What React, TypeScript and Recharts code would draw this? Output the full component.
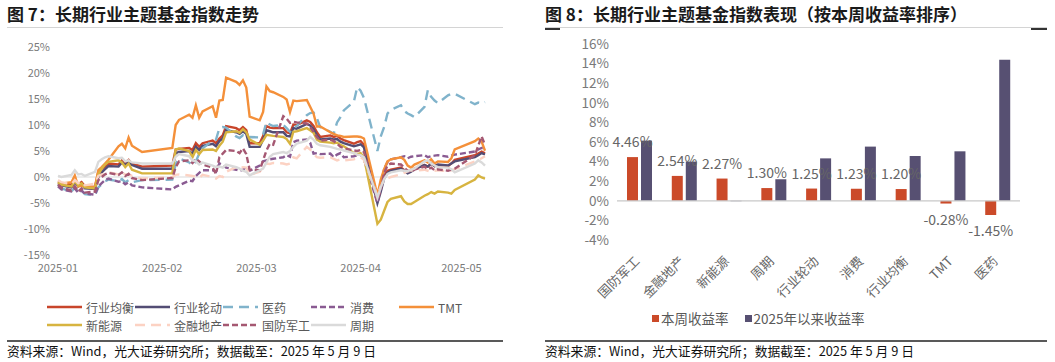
import React from 'react';
import { LineChart, Line, BarChart, Bar, XAxis, YAxis, ReferenceLine, LabelList } from 'recharts';

const FONT = "'Noto Sans CJK SC', 'Noto Sans', sans-serif";

// ---- 图7 data: cumulative return since start of year (%) on trading days ----
const tradeDates = [
  '01-02', '01-03', '01-06', '01-07', '01-08', '01-09', '01-10', '01-13', '01-14', '01-15', '01-16', '01-17',
  '01-20', '01-21', '01-22', '01-23', '01-24', '01-27',
  '02-05', '02-06', '02-07', '02-10', '02-11', '02-12', '02-13', '02-14', '02-17', '02-18', '02-19', '02-20',
  '02-21', '02-24', '02-25', '02-26', '02-27', '02-28',
  '03-03', '03-04', '03-05', '03-06', '03-07', '03-10', '03-11', '03-12', '03-13', '03-14', '03-17', '03-18',
  '03-19', '03-20', '03-21', '03-24', '03-25', '03-26', '03-27', '03-28', '03-31',
  '04-01', '04-02', '04-03', '04-07', '04-08', '04-09', '04-10', '04-11', '04-14', '04-15', '04-16', '04-17',
  '04-18', '04-21', '04-22', '04-23', '04-24', '04-25', '04-28', '04-29', '04-30',
  '05-06', '05-07', '05-08', '05-09',
];

const balanced = [
  -0.8, -1.2, -1.5, -0.6, -1.4, -1.0, -1.8, -1.9, 1.0, 1.6, 2.0, 2.6, 2.4, 3.2, 2.7, 3.3, 2.6, 2.0,
  2.2, 5.3, 5.4, 5.6, 5.2, 6.5, 5.8, 6.5, 7.0, 6.5, 7.4, 8.0, 9.8, 9.4, 9.0, 9.6, 9.0, 6.5,
  6.5, 7.9, 9.8, 9.5, 9.4, 9.4, 8.6, 8.4, 10.1, 10.0, 10.9, 10.6, 9.8, 8.6, 7.7, 8.0, 7.7, 7.9, 7.4, 7.1, 6.4,
  6.7, 6.9, 6.2, -4.3, -2.2, 0.2, 1.2, 1.4, 1.8, 1.3, 0.9, 1.2, 1.6, 2.3, 2.0, 2.6, 2.1, 2.3, 2.1, 2.6, 3.3,
  4.2, 4.5, 4.9, 4.57,
];
const rotation = [
  -1.2, -1.6, -2.0, -1.0, -1.8, -1.4, -2.2, -2.3, 0.0, 0.9, 1.5, 2.1, 2.0, 2.8, 2.3, 2.9, 2.3, 1.6,
  1.6, 4.6, 4.8, 5.0, 4.5, 5.8, 5.2, 6.0, 6.4, 5.9, 6.9, 7.4, 9.0, 8.6, 8.3, 8.8, 8.3, 5.8,
  5.8, 7.2, 9.0, 8.8, 8.6, 8.6, 7.9, 7.8, 9.4, 9.3, 10.2, 9.9, 9.2, 8.0, 7.2, 7.4, 7.2, 7.3, 6.8, 6.5, 5.9,
  6.1, 6.3, 5.7, -5.0, -2.8, -0.3, 0.8, 1.2, 1.6, 1.2, 0.7, 1.0, 1.5, 2.3, 2.0, 2.6, 2.1, 2.4, 2.2, 2.6, 3.0,
  3.8, 4.2, 4.6, 4.33,
];
const pharma = [
  -1.5, -2.2, -2.8, -2.0, -3.0, -2.6, -3.3, -3.5, -2.0, -1.4, -0.8, -0.5, -0.8, -0.4, -1.0, -0.6, -1.0, -0.6,
  -0.5, 2.5, 3.6, 2.8, 2.2, 3.0, 4.5, 5.5, 7.0, 7.2, 9.4, 9.6, 9.5, 7.8, 7.5, 8.0, 7.4, 7.7,
  7.6, 8.2, 10.6, 10.1, 9.8, 10.0, 9.4, 8.7, 9.6, 9.8, 11.9, 12.3, 12.4, 11.3, 9.6, 8.7, 8.3, 10.5, 11.5, 12.8, 14.5,
  17.3, 16.6, 15.2, 5.0, 7.8, 9.6, 12.2, 12.9, 13.8, 12.7, 12.2, 11.9, 11.5, 13.5, 16.7, 15.4, 14.7, 14.2, 15.7, 16.0, 16.0,
  14.0, 14.3, 14.1, 14.4,
];
const consumer = [
  -1.8, -2.4, -2.8, -2.2, -3.0, -2.6, -3.2, -3.4, -1.8, -1.2, -0.6, -0.3, -0.9, -0.8, -1.4, -1.0, -1.6, -2.0,
  -2.4, -1.9, -1.6, -0.7, -0.8, 0.2, 0.8, 1.3, 1.3, 1.0, 2.6, 2.3, 1.8, 1.4, 1.2, 1.4, 1.9, 1.2,
  2.2, 3.0, 3.2, 3.4, 3.5, 3.8, 4.2, 3.9, 6.7, 7.0, 7.2, 6.6, 4.5, 4.6, 4.4, 4.5, 3.8, 4.3, 4.6, 3.8, 4.0,
  4.2, 4.3, 3.4, -5.0, -2.0, 1.5, 2.9, 3.4, 3.8, 4.0, 3.6, 3.9, 4.0, 4.2, 3.8, 4.0, 4.1, 4.2, 3.9, 4.1, 4.3,
  4.9, 5.3, 5.6, 5.53,
];
const tmt = [
  -1.2, -1.3, -1.0, 0.3, -1.8, -1.7, -1.9, -1.9, 1.3, 1.9, 2.6, 3.3, 5.9, 6.4, 5.5, 7.6, 6.0, 4.8,
  5.6, 10.0, 11.0, 12.0, 11.4, 13.8, 11.4, 12.6, 13.6, 11.4, 14.7, 14.8, 19.1, 18.3, 17.7, 18.6, 17.2, 11.6,
  10.9, 12.5, 17.4, 16.5, 16.3, 15.4, 14.9, 12.5, 14.7, 14.6, 14.8, 13.5, 12.2, 9.7, 9.7, 8.6, 8.3, 8.0, 7.9, 7.7, 7.8,
  7.8, 7.7, 7.4, -3.5, -0.5, 1.5, 3.0, 3.4, 3.8, 3.3, 2.2, 1.8, 2.4, 3.2, 2.8, 3.4, 2.6, 3.0, 2.9, 3.6, 5.3,
  6.9, 7.4, 6.8, 5.05,
];
const newEnergy = [
  -1.0, -1.5, -1.8, -0.8, -1.6, -1.2, -2.0, -2.2, 0.5, 1.6, 2.4, 2.9, 3.2, 2.8, 1.9, 2.6, 1.4, 0.7,
  0.7, 5.3, 5.5, 5.0, 3.8, 5.2, 4.4, 5.2, 5.3, 5.0, 6.0, 6.8, 8.6, 8.8, 8.5, 9.2, 8.6, 7.2,
  6.2, 7.0, 8.1, 8.0, 7.9, 7.7, 7.3, 6.4, 8.7, 8.8, 9.4, 9.0, 8.5, 7.2, 6.8, 6.6, 6.5, 6.6, 6.2, 5.9, 4.6,
  4.4, 4.6, 3.8, -9.0, -8.2, -6.5, -4.8, -4.2, -3.7, -4.7, -5.2, -5.2, -4.8, -3.6, -3.3, -2.9, -3.2, -2.8, -3.0, -3.2, -2.5,
  -0.5, 0.3, -0.1, -0.3,
];
const finance = [
  -0.6, -1.0, -1.4, -0.6, -1.2, -0.8, -1.6, -1.3, 0.2, 0.5, 0.6, 0.9, 0.5, 1.0, 0.4, 0.6, 0.2, -0.3,
  0.0, 0.4, 0.5, 0.3, 0.2, 0.1, -0.2, 0.4, 0.0, -0.3, 0.2, 0.0, 1.0, 1.9, 1.6, 1.9, 1.8, 0.4,
  1.0, 1.9, 2.6, 2.5, 2.7, 2.6, 2.4, 2.6, 3.8, 3.6, 5.8, 5.3, 4.5, 3.8, 3.7, 3.8, 3.5, 3.2, 3.4, 3.2, 3.4,
  3.6, 3.8, 3.3, -3.6, -1.8, -0.6, -0.3, 0.0, 0.5, 0.8, 1.1, 1.3, 1.2, 1.4, 1.2, 1.0, 1.2, 1.3, 1.1, 1.3, 1.5,
  3.0, 3.3, 3.6, 4.0,
];
const defense = [
  -1.5, -2.0, -2.6, -1.8, -2.8, -2.2, -3.0, -2.8, -0.6, 0.0, 0.5, 0.8, 0.4, 0.9, 0.2, 0.6, -0.2, -0.6,
  -0.2, 1.9, 3.0, 3.2, 2.7, 3.5, 3.0, 2.4, 1.8, 0.6, 3.8, 4.5, 5.2, 5.0, 4.6, 5.5, 4.4, 1.4,
  1.3, 3.2, 5.1, 6.4, 6.2, 11.7, 11.2, 10.4, 10.6, 10.5, 10.3, 9.6, 8.7, 7.7, 7.0, 7.2, 6.9, 6.4, 5.8, 5.5, 5.1,
  5.0, 5.2, 4.8, -4.5, -2.5, 0.8, 2.2, 2.6, 2.4, 1.8, 1.2, 1.0, 1.4, 2.0, 1.5, 1.8, 1.3, 1.5, 1.2, 1.4, 1.6,
  4.2, 6.0, 7.8, 6.14,
];
const cyclical = [
  0.2, 0.0, 0.4, 1.3, 0.5, 0.6, 0.2, 1.0, 2.9, 3.4, 3.8, 4.0, 3.6, 3.7, 3.0, 3.2, 2.8, 2.6,
  2.6, 3.9, 4.4, 4.0, 3.2, 3.0, 2.4, 2.8, 2.2, 1.9, 2.0, 1.8, 2.4, 1.9, 1.6, 1.2, 1.0, 0.3,
  1.3, 1.6, 2.8, 3.9, 4.4, 4.8, 4.6, 5.0, 5.8, 6.4, 7.0, 7.7, 7.2, 6.4, 6.1, 5.8, 5.6, 5.4, 5.3, 5.1, 4.6,
  4.3, 4.2, 3.8, -4.0, -2.0, -0.4, 0.6, 0.9, 1.3, 1.2, 1.1, 1.4, 1.6, 3.0, 3.2, 2.6, 2.2, 1.9, 1.8, 1.5, 0.9,
  2.6, 3.2, 2.8, 2.2,
];

const lineYTicks = [-15, -10, -5, 0, 5, 10, 15, 20, 25];
const monthTickDates = ['01-02', '02-02', '03-02', '04-02', '05-02'];
const monthTickLabels = ['2025-01', '2025-02', '2025-03', '2025-04', '2025-05'];

// ---- 图8 data ----
const categories = ['国防军工', '金融地产', '新能源', '周期', '行业轮动', '消费', '行业均衡', 'TMT', '医药'];
const weekReturn = [4.46, 2.54, 2.27, 1.3, 1.25, 1.23, 1.2, -0.28, -1.45];
const ytdReturn = [6.14, 4.0, -0.04, 2.2, 4.33, 5.53, 4.57, 5.05, 14.4];
const barYTicks = [-4, -2, 0, 2, 4, 6, 8, 10, 12, 14, 16];

const SERIES = [
  { name: '行业均衡', data: balanced, color: '#C8452B' },
  { name: '行业轮动', data: rotation, color: '#534D74' },
  { name: '医药', data: pharma, color: '#80B3CB', dash: '10 6' },
  { name: '消费', data: consumer, color: '#8A5B92', dash: '6 3' },
  { name: 'TMT', data: tmt, color: '#F4903A' },
  { name: '新能源', data: newEnergy, color: '#D7B440' },
  { name: '金融地产', data: finance, color: '#FCD2C3', dash: '10 6' },
  { name: '国防军工', data: defense, color: '#A55872', dash: '6 3' },
  { name: '周期', data: cyclical, color: '#DADADA' },
];

const dayOfYear = (md: string) => {
  const [m, d] = md.split('-').map(Number);
  return (Date.UTC(2025, m - 1, d) - Date.UTC(2025, 0, 1)) / 86400000;
};

const lineRows = tradeDates.map((md, i) => {
  const row: Record<string, number> = { d: dayOfYear(md) };
  SERIES.forEach(s => { row[s.name] = s.data[i]; });
  return row;
});
const monthTicks = monthTickDates.map(dayOfYear);

const barRows = categories.map((name, i) => ({ name, week: weekReturn[i], ytd: ytdReturn[i] }));

const BAR_RED = '#CB4A29';
const BAR_NAVY = '#575072';

const BarValueLabel = (props: any) => {
  const { x, y, width, height, value } = props;
  const top = Math.min(y, y + height);
  const bottom = Math.max(y, y + height);
  const ty = value >= 0 ? top - 10 : bottom + 21;
  return (
    <text x={x + width / 2} y={ty} textAnchor="middle" fontSize={14} fill="#666" fontFamily={FONT}>
      {`${Number(value).toFixed(2)}%`}
    </text>
  );
};

const CategoryTick = (props: any) => {
  const { x, y, payload } = props;
  return (
    <text
      x={x + 1}
      y={y + 22}
      textAnchor="end"
      transform={`rotate(-45, ${x + 1}, ${y + 22})`}
      fontSize={13}
      fill="#666"
      fontFamily={FONT}
    >
      {payload.value}
    </text>
  );
};

const Title = ({ left, text }: { left: number; text: string }) => (
  <div style={{ position: 'absolute', left, top: 3, fontSize: 17, fontWeight: 700, color: '#1a1a1a', whiteSpace: 'nowrap', lineHeight: '22px' }}>
    {text}
  </div>
);

const Source = ({ left, width }: { left: number; width: number }) => (
  <>
    <div style={{ position: 'absolute', left, top: 340, width, height: 1.5, background: '#595959' }} />
    <div style={{ position: 'absolute', left, top: 342, fontSize: 12.8, color: '#111', whiteSpace: 'nowrap', lineHeight: '18px' }}>
      资料来源：Wind，光大证券研究所；数据截至：2025 年 5 月 9 日
    </div>
  </>
);

export default function App() {
  return (
    <div style={{ position: 'absolute', left: 0, top: 0, width: 1055, height: 362, background: '#fff', fontFamily: FONT, overflow: 'hidden' }}>
      {/* left panel */}
      <Title left={7} text="图 7：长期行业主题基金指数走势" />
      <div style={{ position: 'absolute', left: 7, top: 27, width: 496, height: 1, background: '#d4d4d4' }} />
      <div style={{ position: 'absolute', left: 0, top: 0 }}>
        <LineChart width={530} height={290} data={lineRows} margin={{ top: 47, right: 45, bottom: 5, left: 8 }}>
          <XAxis
            dataKey="d"
            type="number"
            domain={[1, 128]}
            ticks={monthTicks}
            interval={0}
            tickFormatter={(v: number) => monthTickLabels[monthTicks.indexOf(v)]}
            axisLine={false}
            tickLine={false}
            tickSize={4}
            tickMargin={5}
            height={30}
            tick={{ fill: '#7a7a7a', fontSize: 11, fontFamily: FONT }}
          />
          <YAxis
            type="number"
            domain={[-15, 25]}
            ticks={lineYTicks}
            interval={0}
            tickFormatter={(v: number) => `${v}%`}
            axisLine={false}
            tickLine={false}
            width={50}
            tick={{ fill: '#7a7a7a', fontSize: 11, fontFamily: FONT }}
          />
          <ReferenceLine y={0} stroke="#d9d9d9" strokeWidth={1} />
          {SERIES.map(s => (
            <Line
              key={s.name}
              type="linear"
              dataKey={s.name}
              stroke={s.color}
              strokeWidth={2.4}
              strokeDasharray={s.dash}
              dot={false}
              isAnimationActive={false}
            />
          ))}
        </LineChart>
      </div>
      {/* left legend */}
      {SERIES.map((s, i) => {
        const col = i < 5 ? i : i - 5;
        const row = i < 5 ? 0 : 1;
        const left = 47 + col * 88;
        const top = 298 + row * 18;
        return (
          <div key={s.name} style={{ position: 'absolute', left, top, height: 18, display: 'flex', alignItems: 'center', whiteSpace: 'nowrap' }}>
            <svg width={36} height={6} style={{ display: 'block' }}>
              <line x1={0} y1={3} x2={35} y2={3} stroke={s.color} strokeWidth={2.6} strokeDasharray={s.dash} />
            </svg>
            <span style={{ marginLeft: 3, fontSize: 12, color: '#595959' }}>{s.name}</span>
          </div>
        );
      })}
      <Source left={7} width={496} />

      {/* right panel */}
      <Title left={545} text="图 8：长期行业主题基金指数表现（按本周收益率排序）" />
      <div style={{ position: 'absolute', left: 545, top: 27, width: 502, height: 1, background: '#d4d4d4' }} />
      <div style={{ position: 'absolute', left: 545, top: 28, width: 15, height: 1.5, background: '#333' }} />
      <div style={{ position: 'absolute', left: 1031, top: 28, width: 16, height: 1.5, background: '#333' }} />
      <div style={{ position: 'absolute', left: 530, top: 0 }}>
        <BarChart width={525} height={330} data={barRows} margin={{ top: 44, right: 35, bottom: 30, left: 37 }} barSize={11} barGap={3}>
          <XAxis
            dataKey="name"
            interval={0}
            axisLine={false}
            tickLine={false}
            tickSize={0}
            tickMargin={0}
            height={60}
            tick={<CategoryTick />}
          />
          <YAxis
            type="number"
            domain={[-4, 16]}
            ticks={barYTicks}
            interval={0}
            tickFormatter={(v: number) => `${v}%`}
            axisLine={false}
            tickLine={false}
            width={50}
            tick={{ fill: '#7a7a7a', fontSize: 13.5, fontFamily: FONT }}
          />
          <ReferenceLine y={0} stroke="#c8c8c8" strokeWidth={1.2} />
          <Bar dataKey="week" fill={BAR_RED} isAnimationActive={false}>
            <LabelList dataKey="week" content={<BarValueLabel />} />
          </Bar>
          <Bar dataKey="ytd" fill={BAR_NAVY} isAnimationActive={false} />
        </BarChart>
      </div>
      {/* right legend */}
      <div style={{ position: 'absolute', left: 652, top: 309, display: 'flex', alignItems: 'center', whiteSpace: 'nowrap', fontSize: 13.5, color: '#595959', lineHeight: '18px' }}>
        <span style={{ width: 7, height: 7, background: BAR_RED, display: 'inline-block', marginRight: 2 }} />
        <span>本周收益率</span>
        <span style={{ width: 7, height: 7, background: BAR_NAVY, display: 'inline-block', marginLeft: 16, marginRight: 2 }} />
        <span>2025年以来收益率</span>
      </div>
      <Source left={545} width={502} />
    </div>
  );
}
